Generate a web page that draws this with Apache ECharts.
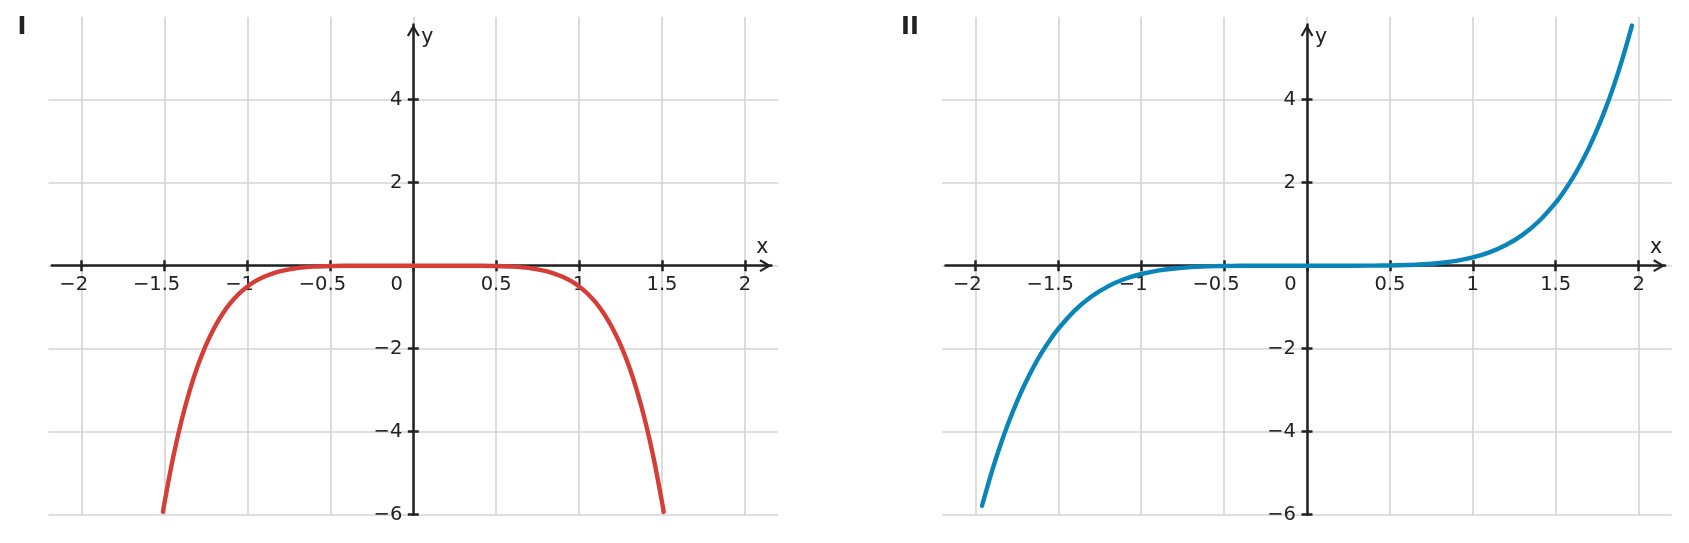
<!DOCTYPE html>
<html>
<head>
<meta charset="utf-8">
<script src="https://cdn.jsdelivr.net/npm/echarts@6/dist/echarts.min.js"></script>
<style>
html,body{margin:0;padding:0;background:#fff;}
#c{width:1689px;height:543px;}
</style>
</head>
<body>
<div id="c"></div>
<script>
// ---- data ----
const X_TICKS = [-2, -1.5, -1, -0.5, 0, 0.5, 1, 1.5, 2];
const Y_GRID = [-6, -4, -2, 0, 2, 4];
const Y_LABELS = [-6, -4, -2, 2, 4];
const PANEL_TITLES = ['I', 'II'];

const X1 = [-1.51, -1.5, -1.45, -1.4, -1.35, -1.3, -1.25, -1.2, -1.15, -1.1, -1.05, -1, -0.95, -0.9, -0.85, -0.8, -0.7, -0.6, -0.5, -0.4, -0.3, -0.2, 0,
            0.2, 0.3, 0.4, 0.5, 0.6, 0.7, 0.8, 0.85, 0.9, 0.95, 1, 1.05, 1.1, 1.15, 1.2, 1.25, 1.3, 1.35, 1.4, 1.45, 1.5, 1.51];
const Y1 = [-5.93, -5.695, -4.647, -3.765, -3.027, -2.413, -1.907, -1.493, -1.157, -0.886, -0.670, -0.5, -0.368, -0.266, -0.189, -0.131, -0.059, -0.023, -0.008, -0.002, -0.0004, 0, 0,
            0, -0.0004, -0.002, -0.008, -0.023, -0.059, -0.131, -0.189, -0.266, -0.368, -0.5, -0.670, -0.886, -1.157, -1.493, -1.907, -2.413, -3.027, -3.765, -4.647, -5.695, -5.93];

const X2 = [-1.96, -1.9, -1.85, -1.8, -1.75, -1.7, -1.65, -1.6, -1.55, -1.5, -1.4, -1.3, -1.2, -1.1, -1, -0.9, -0.8, -0.7, -0.6, -0.5, -0.4, -0.3, 0,
            0.3, 0.4, 0.5, 0.6, 0.7, 0.8, 0.9, 1, 1.1, 1.2, 1.3, 1.4, 1.5, 1.55, 1.6, 1.65, 1.7, 1.75, 1.8, 1.85, 1.9, 1.96];
const Y2 = [-5.785, -4.952, -4.334, -3.779, -3.283, -2.840, -2.446, -2.097, -1.790, -1.519, -1.076, -0.743, -0.498, -0.322, -0.2, -0.118, -0.066, -0.034, -0.016, -0.006, -0.002, -0.0005, 0,
            0.0005, 0.002, 0.006, 0.016, 0.034, 0.066, 0.118, 0.2, 0.322, 0.498, 0.743, 1.076, 1.519, 1.790, 2.097, 2.446, 2.840, 3.283, 3.779, 4.334, 4.952, 5.785];

// ---- layout ----
const FONT = 'DejaVu Sans';
const INK = '#222222';
const LABEL_SIZE = 19.5;
const SX = 165.8, SY = 41.5, Y0 = 265.7;
const X0S = [413.3, 1307.0];
const TITLE_LEFT = [17.5, 901];
const XR = [-2.2, 2.2], YR = [-6, 6];            // full (grid line) extent
const AXR_X = [-2.18, 2.16], AXR_Y = [-6, 5.81]; // drawn axis extent
const COLORS = ['#d53d37', '#0a85b9'];
const CURVES = [[X1, Y1], [X2, Y2]];

const chart = echarts.init(document.getElementById('c'), null, {renderer: 'canvas'});

const grids = [], xAxes = [], yAxes = [], series = [], titles = [];
const arrowPath = 'path://M0,11 L6.5,0 L13,11 L11,12.2 L6.5,4.2 L2,12.2 Z';
const tickStyle = {color: INK, width: 2.5};
const hidden = {show: false};

function fmtNum(v) {
  return (v < 0 ? '\u2212' : '') + String(Math.abs(v));
}

X0S.forEach(function (x0, p) {
  const g = grids.length;
  // grid A : grid lines + inner ticks + data
  grids.push({left: x0 + XR[0] * SX, width: (XR[1] - XR[0]) * SX,
              top: Y0 - YR[1] * SY, height: (YR[1] - YR[0]) * SY, containLabel: false});
  // grid BX : horizontal axis sitting on its bottom edge (y = 0)
  grids.push({left: x0 + AXR_X[0] * SX, width: (AXR_X[1] - AXR_X[0]) * SX,
              top: Y0 - 60, height: 60, containLabel: false});
  // grid BY : vertical axis sitting on its left edge (x = 0)
  grids.push({left: x0, width: 60,
              top: Y0 - AXR_Y[1] * SY, height: (AXR_Y[1] - AXR_Y[0]) * SY, containLabel: false});

  // grid A axes
  xAxes.push({type: 'value', gridIndex: g, min: XR[0], max: XR[1],
    axisLine: {show: false, onZero: true},
    axisTick: {show: true, inside: true, length: 5.5, customValues: X_TICKS, lineStyle: tickStyle},
    axisLabel: hidden,
    splitLine: {show: true, lineStyle: {color: '#d4d4d4', width: 1.6}}});
  yAxes.push({type: 'value', gridIndex: g, min: YR[0], max: YR[1],
    axisLine: {show: false, onZero: true},
    axisTick: {show: true, inside: true, length: 5.5, customValues: Y_GRID, lineStyle: tickStyle},
    axisLabel: hidden,
    splitLine: {show: true, lineStyle: {color: '#d4d4d4', width: 1.6}}});

  // grid BX axes
  xAxes.push({type: 'value', gridIndex: g + 1, min: AXR_X[0], max: AXR_X[1], position: 'bottom',
    name: 'x', nameLocation: 'end', nameGap: -9,
    nameTextStyle: {fontFamily: FONT, fontSize: 20.5, color: INK, align: 'center', verticalAlign: 'bottom', padding: [0, 0, 8, 0]},
    axisLine: {show: true, onZero: false, symbol: ['none', arrowPath], symbolSize: [13, 12], symbolOffset: [0, -6],
               lineStyle: {color: INK, width: 2.5}},
    axisTick: {show: true, inside: false, length: 5.5, customValues: X_TICKS, lineStyle: tickStyle},
    axisLabel: {show: true, customValues: X_TICKS, margin: 9,
      formatter: function (v) {
        if (v === 0) return '{t|0}{z| }';
        if (v < 0) return '{t|' + fmtNum(v) + '}{s| }';
        return '{t|' + fmtNum(v) + '}';
      },
      rich: {t: {fontFamily: FONT, fontSize: LABEL_SIZE, color: INK},
             s: {width: 16, fontSize: LABEL_SIZE}, z: {width: 33, fontSize: LABEL_SIZE}}},
    splitLine: hidden});
  yAxes.push({type: 'value', gridIndex: g + 1, min: 0, max: 1, show: false});

  // grid BY axes
  xAxes.push({type: 'value', gridIndex: g + 2, min: 0, max: 1, show: false});
  yAxes.push({type: 'value', gridIndex: g + 2, min: AXR_Y[0], max: AXR_Y[1], position: 'left',
    name: 'y', nameLocation: 'end', nameGap: -3,
    nameTextStyle: {fontFamily: FONT, fontSize: 20.5, color: INK, align: 'left', verticalAlign: 'top', padding: [0, 0, 0, 8]},
    axisLine: {show: true, onZero: false, symbol: ['none', arrowPath], symbolSize: [13, 12], symbolOffset: [0, -6],
               lineStyle: {color: INK, width: 2.5}},
    axisTick: {show: true, inside: false, length: 5.5, customValues: Y_GRID, lineStyle: tickStyle},
    axisLabel: {show: true, customValues: Y_LABELS, margin: 11, fontFamily: FONT, fontSize: LABEL_SIZE, color: INK,
      formatter: function (v) { return fmtNum(v); }},
    splitLine: hidden});

  const c = CURVES[p];
  series.push({type: 'line', xAxisIndex: g, yAxisIndex: g,
    data: c[0].map(function (x, i) { return [x, c[1][i]]; }),
    showSymbol: false, smooth: 0.3, z: 5,
    lineStyle: {color: COLORS[p], width: 4.4, cap: 'round', join: 'round'}});

  titles.push({text: PANEL_TITLES[p], left: TITLE_LEFT[p], top: 16, padding: 0,
    textStyle: {fontFamily: FONT, fontSize: 24, fontWeight: 'bold', color: INK}});
});

chart.setOption({
  animation: false,
  backgroundColor: '#ffffff',
  title: titles,
  grid: grids,
  xAxis: xAxes,
  yAxis: yAxes,
  series: series
});
</script>
</body>
</html>
